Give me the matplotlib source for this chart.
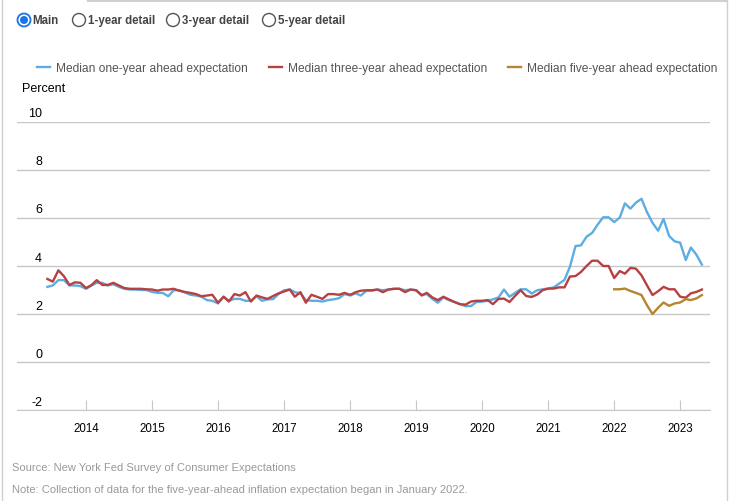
import matplotlib
matplotlib.use("Agg")
import matplotlib.pyplot as plt
from matplotlib.patches import Circle
from matplotlib.transforms import ScaledTranslation
import pandas as pd

plt.rcParams['font.family'] = ['Liberation Sans', 'DejaVu Sans']

# monthly medians, Jun 2013 - May 2023
one_year = [
    3.13, 3.19, 3.41, 3.41, 3.19, 3.19, 3.16,
    3.05, 3.19, 3.30, 3.30, 3.19, 3.24, 3.13, 3.05, 3.02, 3.02, 3.00, 3.00,
    2.92, 2.88, 2.88, 2.74, 2.99, 2.99, 2.90, 2.80, 2.77, 2.72, 2.58, 2.55,
    2.44, 2.72, 2.55, 2.63, 2.63, 2.55, 2.55, 2.74, 2.55, 2.61, 2.62, 2.83,
    2.99, 3.02, 2.91, 2.86, 2.58, 2.55, 2.55, 2.52, 2.58, 2.61, 2.66, 2.83,
    2.77, 2.86, 2.77, 2.97, 2.97, 3.02, 2.99, 3.02, 3.05, 3.05, 2.99, 3.02,
    2.99, 2.80, 2.83, 2.63, 2.47, 2.69, 2.58, 2.50, 2.41, 2.33, 2.33, 2.50,
    2.52, 2.55, 2.61, 2.69, 3.02, 2.72, 2.88, 3.03, 3.03, 2.85, 2.99, 3.03,
    3.06, 3.11, 3.26, 3.42, 3.97, 4.83, 4.86, 5.22, 5.38, 5.72, 6.03, 6.03,
    5.83, 6.02, 6.61, 6.39, 6.64, 6.80, 6.25, 5.80, 5.47, 5.96, 5.25, 5.03,
    4.97, 4.25, 4.77, 4.47, 4.06,
]
three_year = [
    3.46, 3.35, 3.82, 3.57, 3.21, 3.32, 3.30,
    3.08, 3.21, 3.41, 3.21, 3.21, 3.30, 3.19, 3.08, 3.05, 3.05, 3.05, 3.03,
    3.02, 2.97, 3.02, 3.02, 3.05, 2.97, 2.92, 2.88, 2.83, 2.74, 2.77, 2.80,
    2.47, 2.72, 2.52, 2.83, 2.77, 2.91, 2.52, 2.77, 2.69, 2.63, 2.75, 2.86,
    2.94, 3.02, 2.72, 2.91, 2.47, 2.80, 2.72, 2.63, 2.83, 2.83, 2.80, 2.88,
    2.80, 2.91, 2.97, 2.99, 2.99, 3.02, 2.91, 3.02, 3.05, 3.05, 2.91, 3.02,
    2.99, 2.77, 2.88, 2.69, 2.58, 2.72, 2.61, 2.50, 2.41, 2.39, 2.52, 2.55,
    2.55, 2.58, 2.41, 2.63, 2.64, 2.50, 2.75, 2.99, 2.75, 2.71, 2.81, 2.99,
    3.06, 3.06, 3.11, 3.11, 3.56, 3.58, 3.75, 4.00, 4.22, 4.22, 4.00, 4.00,
    3.50, 3.79, 3.68, 3.92, 3.89, 3.61, 3.20, 2.79, 2.95, 3.13, 3.03, 3.03,
    2.72, 2.68, 2.86, 2.92, 3.02,
]
# Jan 2022 - May 2023
five_year = [3.03, 3.03, 3.06, 2.96, 2.88, 2.79, 2.37, 2.00, 2.26, 2.48,
             2.34, 2.44, 2.48, 2.62, 2.58, 2.65, 2.79]

dates = pd.date_range("2013-06-01", periods=len(one_year), freq="MS")
dates5 = pd.date_range("2022-01-01", periods=len(five_year), freq="MS")

labels = ["Median one-year ahead expectation",
          "Median three-year ahead expectation",
          "Median five-year ahead expectation"]
colors = ["#5dade2", "#b84040", "#b5862e"]
yticks = [-2, 0, 2, 4, 6, 8, 10]
years = list(range(2014, 2024))
radio = ["Main", "1-year detail", "3-year detail", "5-year detail"]

fig = plt.figure(figsize=(7.3, 5.02), dpi=100)

# pixel-space layer for the page furniture
bg = fig.add_axes([0, 0, 1, 1], zorder=0)
bg.set_xlim(0, 730)
bg.set_ylim(502, 0)
bg.axis("off")
bg.plot([2, 2], [0, 502], color="#d0d0d0", lw=1)
bg.plot([88, 727], [2, 2], color="#d0d0d0", lw=1.5)
bg.plot([727, 727], [0, 502], color="#d0d0d0", lw=1)

rx = [24, 79, 173, 269]
for i, (x, t) in enumerate(zip(rx, radio)):
    if i == 0:
        bg.add_patch(Circle((x, 21), 6.5, fc="white", ec="#1a73e8", lw=1.3))
        bg.add_patch(Circle((x, 21), 4.0, fc="#1a73e8", ec="none"))
    else:
        bg.add_patch(Circle((x, 21), 6.5, fc="white", ec="#555555", lw=1))
    bg.text(x + 8.5, 21, t, fontsize=8.3, fontweight="bold", color="#444444",
            va="center", ha="left")

bg.text(22, 89, "Percent", fontsize=9, color="black", va="center", ha="left")
bg.text(12, 468, "Source: New York Fed Survey of Consumer Expectations",
        fontsize=8, color="#999999", va="center", ha="left")
bg.text(12, 490, "Note: Collection of data for the five-year-ahead inflation "
        "expectation began in January 2022.",
        fontsize=8, color="#999999", va="center", ha="left")

ax = fig.add_axes([17 / 730, 1 - 411 / 502, 693 / 730, 288 / 502], zorder=1)
ax.patch.set_alpha(0)
h1, = ax.plot(dates, one_year, color=colors[0], lw=1.7, label=labels[0])
h2, = ax.plot(dates, three_year, color=colors[1], lw=1.7, label=labels[1])
h3, = ax.plot(dates5, five_year, color=colors[2], lw=1.7, label=labels[2])

ax.set_ylim(-2, 10)
ax.set_xlim(pd.Timestamp("2012-12-15"), pd.Timestamp("2023-06-15"))
ax.set_yticks(yticks)
ax.set_yticklabels([str(v) for v in yticks])
ax.set_xticks([pd.Timestamp(f"{y}-01-01") for y in years])
ax.set_xticklabels([str(y) for y in years])
ax.grid(axis="y", color="#c8c8c8", lw=1)
ax.set_axisbelow(True)
for s in ["top", "right", "left"]:
    ax.spines[s].set_visible(False)
ax.spines["bottom"].set_color("#c8c8c8")
ax.spines["bottom"].set_zorder(0)

ax.tick_params(axis="x", direction="in", length=7, color="#c8c8c8",
               labelsize=8.3, labelcolor="black", pad=9)
ax.tick_params(axis="y", length=0, pad=0, labelsize=9, labelcolor="black")
shift = ScaledTranslation(0.25, 0.10, fig.dpi_scale_trans)
for lab in ax.get_yticklabels():
    lab.set_transform(lab.get_transform() + shift)

fig.legend(handles=[h1, h2, h3], loc="center left",
           bbox_to_anchor=(37 / 730, 1 - 69 / 502), ncol=3, frameon=False,
           fontsize=8.64, labelcolor="#555555", handlelength=1.1,
           handletextpad=0.5, columnspacing=1.72, borderpad=0,
           borderaxespad=0)

fig.savefig("out.png", dpi=100)
